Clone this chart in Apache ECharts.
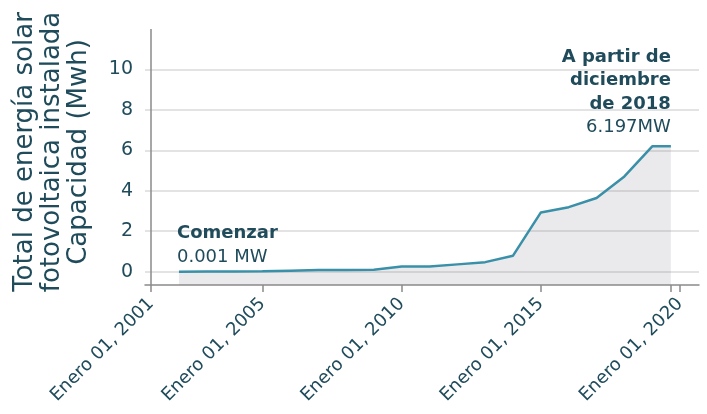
<!DOCTYPE html>
<html>
<head>
<meta charset="utf-8">
<script src="https://cdn.jsdelivr.net/npm/echarts@6/dist/echarts.min.js"></script>
<style>html,body{margin:0;padding:0;background:#fff}#c{width:707px;height:414px}</style>
</head>
<body>
<div id="c"></div>
<script>
// Data (decimal years, MW)
const years = [2002, 2003, 2004, 2005, 2006, 2007, 2008, 2009, 2010, 2011, 2012, 2013, 2014, 2015, 2016, 2017, 2018, 2019, 2019.67];
const capacity = [0.001, 0.005, 0.01, 0.02, 0.05, 0.08, 0.08, 0.09, 0.25, 0.25, 0.36, 0.47, 0.79, 2.93, 3.19, 3.64, 4.71, 6.197, 6.197];
const xLabelYears = [2001, 2005, 2010, 2015, 2020];
const xTickYears = [2001, 2005, 2010, 2015, 2019.67, 2020];
const yTicks = [0, 2, 4, 6, 8, 10];
const yTitle = 'Total de energía solar\nfotovoltaica instalada\nCapacidad (Mwh)';
const startTitle = 'Comenzar';
const startValue = '0.001 MW';
const endTitle = 'A partir de\ndiciembre\nde 2018';
const endValue = '6.197MW';

const FONT = 'DejaVu Sans';
const TXT = '#1f4b5b';
const points = years.map((y, i) => [y, capacity[i]]);
const first = points[0];
const last = points[points.length - 1];

const chart = echarts.init(document.getElementById('c'), null, {renderer: 'canvas'});
chart.setOption({
  animation: false,
  grid: {left: 145, right: 8, top: 29, bottom: 129, containLabel: false},
  xAxis: {
    type: 'value', min: 2000.78, max: 2020.68,
    splitLine: {show: false},
    axisLine: {onZero: false, lineStyle: {color: '#8a8a8a', width: 1.5}},
    axisTick: {show: true, length: 7, customValues: xTickYears, lineStyle: {color: '#8a8a8a', width: 1.5}},
    axisLabel: {customValues: xLabelYears, rotate: 45, margin: 16, color: TXT, fontFamily: FONT, fontSize: 18,
      formatter: v => 'Enero 01, ' + v}
  },
  yAxis: {
    type: 'value', min: -0.66, max: 12,
    splitLine: {show: false},
    axisLine: {show: false},
    axisTick: {show: false},
    axisLabel: {customValues: yTicks, margin: 12, color: TXT, fontFamily: FONT, fontSize: 19}
  },
  graphic: [{
    type: 'text', x: 52, y: 152, rotation: Math.PI / 2,
    style: {text: yTitle, fill: TXT, font: '26px "' + FONT + '"', align: 'center', verticalAlign: 'middle', lineHeight: 27}
  }],
  series: [
    {
      type: 'line', data: [], z: 1, silent: true,
      markLine: {silent: true, symbol: 'none', z: 1, label: {show: false},
        lineStyle: {color: '#e3e3e3', width: 2, type: 'solid'},
        data: yTicks.map(t => ({yAxis: t}))}
    },
    {
      type: 'line', data: [], z: 3, silent: true,
      markLine: {silent: true, symbol: 'none', z: 3, label: {show: false},
        lineStyle: {color: '#8a8a8a', width: 1.5, type: 'solid'},
        data: [{xAxis: 2001}]}
    },
    {
      type: 'line', z: 2, data: points, symbol: 'none', smooth: false,
      lineStyle: {color: '#3a90a8', width: 2.5},
      areaStyle: {color: 'rgba(128,132,142,0.24)', origin: 'start'},
      markPoint: {
        silent: true, symbol: 'circle', symbolSize: 0, z: 5,
        itemStyle: {color: 'rgba(0,0,0,0)'},
        data: [
          {coord: first, label: {show: true, position: 'top', align: 'left', verticalAlign: 'bottom', offset: [-2, 0], distance: 3,
            formatter: '{b|' + startTitle + '}\n{r|' + startValue + '}'}},
          {coord: last, label: {show: true, position: 'top', align: 'right', verticalAlign: 'bottom', distance: 7,
            formatter: endTitle.split('\n').map(s => '{b|' + s + '}').join('\n') + '\n{r|' + endValue + '}'}}
        ],
        label: {color: TXT, fontFamily: FONT,
          rich: {
            b: {fontFamily: FONT, fontWeight: 'bold', fontSize: 18, color: TXT, lineHeight: 23.5},
            r: {fontFamily: FONT, fontSize: 18, color: TXT, lineHeight: 23.5}
          }}
      }
    }
  ]
});
</script>
</body>
</html>
